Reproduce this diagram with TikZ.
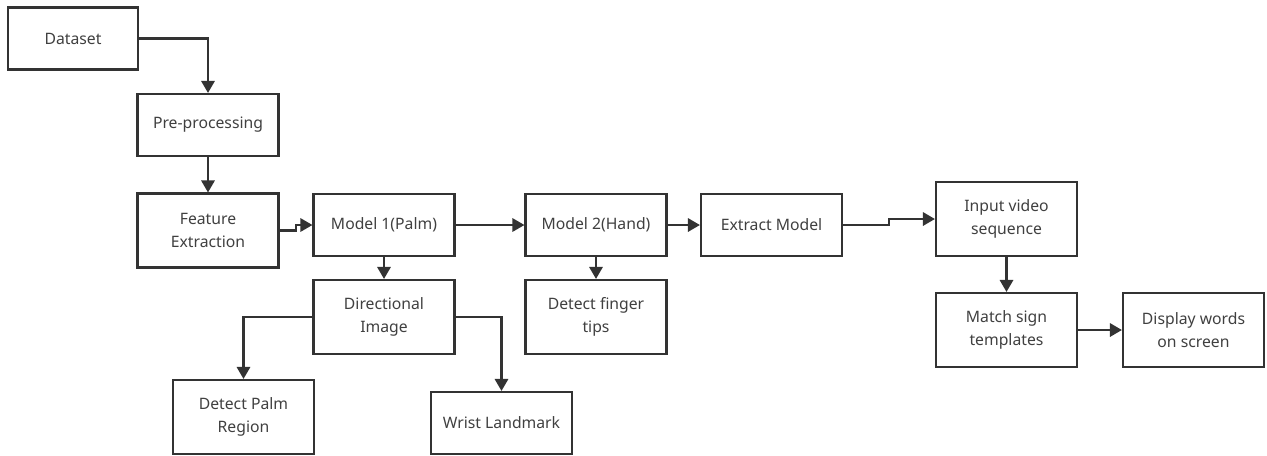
\documentclass[tikz,border=0pt]{standalone}
\usepackage{fontspec}
\setmainfont{Noto Sans}
\usetikzlibrary{arrows.meta,calc}
\definecolor{ln}{HTML}{333333}
\definecolor{tx}{HTML}{404040}
\begin{document}
\begin{tikzpicture}[x=0.75pt,y=-0.75pt,
  box/.style={draw=ln,line width=1.6pt,fill=white,text=tx,align=center,
    font=\fontsize{11.8}{17.5}\selectfont,inner sep=0pt,
    minimum width=105.75pt,minimum height=46.5pt},
  tall/.style={minimum height=55.5pt},
  conn/.style={draw=ln,line width=1.6pt,-{Triangle[length=9pt,width=10pt]}}]
\useasboundingbox (0,0) rectangle (1267,455);
\node[box,minimum width=97.5pt] (data) at (73,38.5) {Dataset};
\node[box] (pre) at (208,125) {Pre-processing};
\node[box,tall] (feat) at (208,230.5) {Feature\\Extraction};
\node[box] (m1) at (384,225) {Model 1(Palm)};
\node[box] (m2) at (596,225) {Model 2(Hand)};
\node[box] (ext) at (771.5,225) {Extract Model};
\node[box,tall] (inp) at (1006.5,219) {Input video\\sequence};
\node[box,tall] (dir) at (384,317) {Directional\\Image};
\node[box,tall] (fin) at (596,317) {Detect finger\\tips};
\node[box,tall] (match) at (1006.5,330) {Match sign\\templates};
\node[box,tall] (disp) at (1193.5,330) {Display words\\on screen};
\node[box,tall] (palm) at (243.5,417) {Detect Palm\\Region};
\node[box] (wrist) at (501.5,423) {Wrist Landmark};
\draw[conn] (data.east) -| (pre.north);
\draw[conn] (pre.south) -- (feat.north);
\draw[conn] (feat.east) -| ($(feat.east)!0.5!(m1.west)$) |- (m1.west);
\draw[conn] (m1.east) -- (m2.west);
\draw[conn] (m2.east) -- (ext.west);
\draw[conn] (ext.east) -| ($(ext.east)!0.5!(inp.west)$) |- (inp.west);
\draw[conn] (m1.south) -- (dir.north);
\draw[conn] (m2.south) -- (fin.north);
\draw[conn] (dir.west) -| (palm.north);
\draw[conn] (dir.east) -| (wrist.north);
\draw[conn] (inp.south) -- (match.north);
\draw[conn] (match.east) -- (disp.west);
\end{tikzpicture}
\end{document}
